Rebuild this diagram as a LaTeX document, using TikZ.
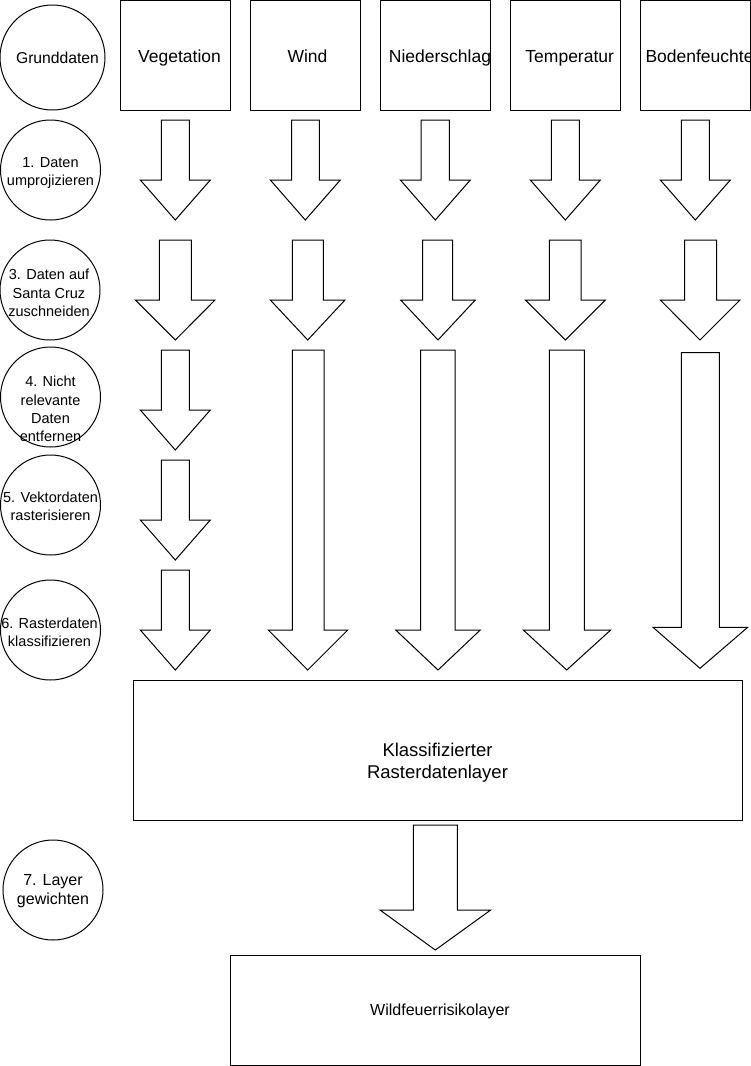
\documentclass[tikz,border=0pt]{standalone}
\usepackage{fontspec}
\setmainfont{Liberation Sans}
% block arrow: #1 shaft left, #2 shaft right, #3 top, #4 shaft bottom, #5 head left, #6 head right, #7 tip x, #8 tip y
\newcommand{\barr}[8]{\draw[blockarrow] (#1,#3) -- (#2,#3) -- (#2,#4) -- (#6,#4) -- (#7,#8) -- (#5,#4) -- (#1,#4) -- cycle;}
\begin{document}
\begin{tikzpicture}[x=1pt,y=-1pt,
  blockarrow/.style={draw=black,line width=1pt,fill=white,line join=miter},
  stepcircle/.style={draw=black,line width=1pt,circle,minimum size=100pt,inner sep=0pt},
  steptext/.style={align=center,font=\fontsize{14.5}{18.3}\selectfont,inner sep=0pt},
  databox/.style={draw=black,line width=1pt,rectangle,minimum width=110pt,minimum height=110pt,inner sep=0pt},
  datatext/.style={font=\fontsize{17.5}{21}\selectfont,inner sep=0pt,text height=12.6pt,text depth=3.7pt},
  layerbox/.style={draw=black,line width=1pt,rectangle,inner sep=0pt}]
\useasboundingbox (0,0) rectangle (751,1066);

% step circles
\node[stepcircle,minimum size=105pt,label={[steptext,font=\fontsize{15.7}{19}\selectfont,xshift=5pt]center:Grunddaten}] (c0) at (52.5,57.5) {};
\node[stepcircle,label={[steptext,yshift=-2.7pt]center:1. Daten\\umprojizieren}] (c1) at (50.5,170) {};
\node[stepcircle,label={[steptext,yshift=-3pt,xshift=-1pt]center:3. Daten auf\\Santa Cruz\\zuschneiden}] (c3) at (50,290) {};
\node[stepcircle,label={[steptext,yshift=-12pt]center:4. Nicht\\relevante\\Daten\\entfernen}] (c4) at (50.5,397) {};
\node[stepcircle,label={[steptext,yshift=-1pt]center:5. Vektordaten\\rasterisieren}] (c5) at (50.5,505) {};
\node[stepcircle,label={[steptext,yshift=-2pt,xshift=-1pt]center:6. Rasterdaten\\klassifizieren}] (c6) at (50.5,630) {};
\node[stepcircle,label={[steptext,font=\fontsize{16}{18.3}\selectfont,yshift=-1pt]center:7. Layer\\gewichten}] (c7) at (53,890) {};

% data boxes
\node[databox,label={[datatext,xshift=4.5pt,yshift=-2.85pt]center:Vegetation}] (veg) at (175,55) {};
\node[databox,label={[datatext,xshift=2.5pt,yshift=-2.85pt]center:Wind}] (wind) at (305,55) {};
\node[databox,label={[datatext,xshift=5pt,yshift=-2.85pt]center:Niederschlag}] (nied) at (435,55) {};
\node[databox,label={[datatext,xshift=4.7pt,yshift=-2.85pt]center:Temperatur}] (temp) at (565,55) {};
\node[databox,label={[datatext,xshift=4.5pt,yshift=-2.85pt]center:Bodenfeuchte}] (bod) at (695,55) {};

% layer boxes
\node[layerbox,minimum width=609pt,minimum height=140pt,label={[align=center,font=\fontsize{18.5}{22}\selectfont,inner sep=0pt,yshift=-13pt]center:Klassifizierter\\Rasterdatenlayer}] (kl) at (437.5,750) {};
\node[layerbox,minimum width=410pt,minimum height=110pt,label={[font=\fontsize{16}{19}\selectfont,inner sep=0pt,text height=11.5pt,text depth=3.4pt,xshift=5pt,yshift=-1.6pt]center:Wildfeuerrisikolayer}] (wf) at (435,1010) {};

% row 1 arrows
\barr{161.3}{189.3}{120}{180}{140.3}{210.3}{175.3}{220}
\barr{291.7}{319.3}{120}{180}{270.3}{340.3}{305.3}{220}
\barr{421}{449.3}{120}{180}{400.3}{470.3}{435.3}{220}
\barr{551.3}{579.3}{120}{180}{530.3}{600.3}{565.3}{220}
\barr{681.3}{709.3}{120}{180}{660.3}{730.3}{695.3}{220}

% row 2 arrows
\barr{159.3}{191.3}{240}{300}{135.3}{215}{175.3}{340}
\barr{292.3}{323.3}{240}{300}{270.3}{345}{307.7}{340}
\barr{422.7}{452.7}{240}{300}{400.7}{475.3}{438}{340}
\barr{549.3}{581}{240}{300}{525.3}{605.3}{565.3}{340}
\barr{684.7}{716.7}{240}{300}{660.3}{740}{700}{340}

% vegetation steps 4-6
\barr{161.3}{189.3}{350}{410}{140.3}{210.3}{175.3}{450}
\barr{161.3}{189.3}{460}{520}{140.3}{210.3}{175.3}{560}
\barr{161.3}{189.3}{570}{630}{140.3}{210.3}{175.3}{670}

% long arrows
\barr{292.3}{324}{350}{630}{268.3}{347.7}{307.7}{670}
\barr{420.7}{455}{350}{630}{395.7}{480.3}{438}{670}
\barr{549.3}{584.3}{350}{630}{523.3}{610.7}{566.7}{670}
\barr{681.3}{719.3}{352.7}{627.3}{653}{747.7}{700}{668.3}

% bottom arrow
\barr{413.3}{457.3}{825}{910}{380}{490.7}{435.3}{950}
\end{tikzpicture}
\end{document}
